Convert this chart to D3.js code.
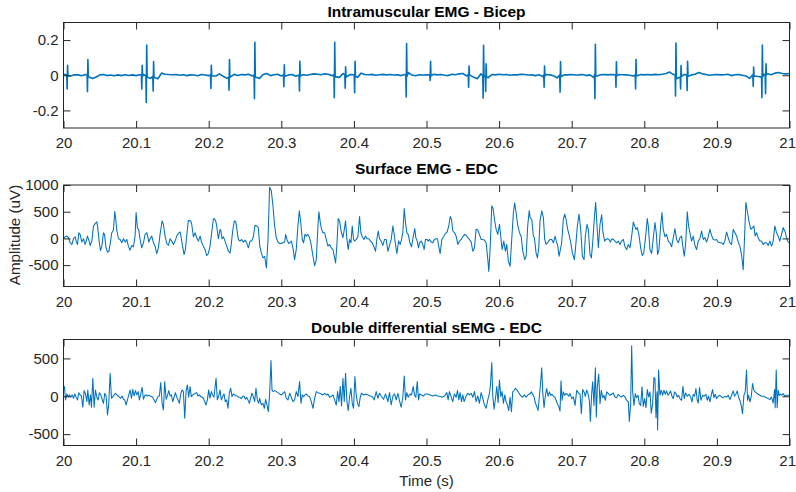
<!DOCTYPE html>
<html>
<head>
<meta charset="utf-8">
<script src="https://cdn.jsdelivr.net/npm/d3@7"></script>
<style>
  body { margin: 0; background: #fff; }
  svg { display: block; font-family: "Liberation Sans", Arial, Helvetica, sans-serif; }
</style>
</head>
<body>
<svg id="chart" width="796" height="492"></svg>
<script>
// ---- data (time given in ms after t = 20 s) ----
const X_TICKS = [20, 20.1, 20.2, 20.3, 20.4, 20.5, 20.6, 20.7, 20.8, 20.9, 21];
const IMG_TICKS = [-0.2, 0, 0.2];
const SEMG_TICKS = [-500, 0, 500, 1000];
const DD_TICKS = [-500, 0, 500];

// intramuscular baseline, one value every 5 ms from 20.000 to 21.000 s
const IMG_BASE = [
  0.005, 0.000, -0.004, 0.003, 0.002, -0.003, 0.004, -0.005, -0.018, -0.010, 0.002, 0.004, -0.002, 0.001, -0.003, 0.002, -0.002, 0.003, -0.001, 0.002,
  -0.002, 0.003, 0.004, -0.010, -0.018, -0.012, -0.020, 0.012, 0.006, 0.004, 0.003, 0.004, 0.000, 0.003, -0.002, 0.002, 0.001, -0.003, 0.004, 0.001,
  -0.002, 0.004, -0.004, 0.008, -0.006, -0.018, -0.008, 0.005, -0.002, 0.004, 0.002, 0.006, -0.004, -0.008, -0.018, 0.004, 0.010, -0.002, 0.003, 0.006,
  -0.004, -0.008, 0.002, 0.004, -0.006, 0.002, 0.003, 0.000, 0.004, 0.008, 0.006, 0.003, 0.008, 0.006, -0.003, -0.006, -0.012, 0.010, -0.014, 0.004,
  0.002, -0.012, 0.012, 0.004, 0.003, 0.005, 0.000, 0.003, 0.005, 0.002, 0.004, 0.001, 0.003, -0.002, 0.004, 0.015, 0.001, -0.003, 0.003, 0.001,
  0.002, -0.004, 0.006, 0.002, 0.004, 0.000, -0.002, 0.006, 0.003, 0.008, 0.010, -0.004, 0.012, -0.012, -0.020, 0.008, 0.000, -0.014, 0.004, 0.002,
  0.006, 0.003, 0.004, 0.000, 0.003, 0.002, 0.006, 0.004, 0.001, 0.002, -0.002, 0.003, -0.008, 0.004, 0.002, -0.003, -0.015, -0.006, 0.003, 0.002,
  0.004, 0.001, 0.002, 0.004, -0.002, 0.002, -0.012, -0.004, 0.003, 0.004, 0.002, 0.004, -0.004, 0.004, 0.003, 0.002, 0.000, -0.004, -0.008, 0.004,
  0.002, 0.004, 0.002, 0.005, 0.003, 0.006, 0.010, 0.018, 0.004, -0.020, -0.012, 0.004, -0.006, 0.002, 0.006, 0.016, 0.008, 0.004, 0.000, 0.003,
  0.004, 0.002, 0.003, 0.006, -0.002, 0.003, 0.004, 0.000, -0.004, -0.018, 0.002, -0.006, -0.010, 0.006, 0.008, 0.003, 0.012, 0.016, 0.010, 0.008,
  0.010
];

// intramuscular spikes [ms, value]
const IMG_SPIKES = [
  [4.5, 0.002], [5.0, -0.078], [5.6, 0.057], [6.2, -0.004],
  [32.5, 0.002], [33.0, -0.093], [33.6, 0.089], [34.2, -0.008],
  [107.3, 0.003], [107.8, -0.078], [108.4, 0.057], [109.0, -0.006],
  [113.5, -0.004], [114.0, -0.155], [114.6, 0.172], [115.2, -0.010],
  [123.0, -0.006], [123.5, -0.090], [124.1, 0.078], [124.7, -0.012],
  [202.5, 0.002], [203.0, -0.075], [203.6, 0.057], [204.2, -0.004],
  [227.5, -0.010], [228.0, -0.085], [228.6, 0.089], [229.2, -0.012],
  [262.5, 0.002], [263.0, -0.133], [263.6, 0.187], [264.2, -0.010],
  [303.0, 0.002], [303.5, -0.065], [304.1, 0.060], [304.7, -0.006],
  [324.5, 0.002], [325.0, -0.090], [325.6, 0.080], [326.2, -0.004],
  [372.5, 0.004], [373.0, -0.128], [373.6, 0.187], [374.2, -0.008],
  [387.5, 0.002], [388.0, -0.074], [388.6, 0.048], [389.2, -0.010],
  [400.5, 0.003], [401.0, -0.100], [401.6, 0.080], [402.2, -0.006],
  [471.5, 0.002], [472.0, -0.124], [472.6, 0.180], [473.2, -0.006],
  [504.5, 0.002], [505.0, -0.030], [505.6, 0.080], [506.2, -0.004],
  [557.5, 0.004], [558.0, -0.068], [558.6, 0.052], [559.2, 0.002],
  [577.5, -0.004], [578.0, -0.130], [578.6, 0.170], [579.2, -0.008],
  [581.0, -0.004], [581.5, -0.093], [582.1, 0.065], [582.7, -0.010],
  [661.5, 0.002], [662.0, -0.068], [662.6, 0.052], [663.2, -0.004],
  [683.5, 0.002], [684.0, -0.096], [684.6, 0.078], [685.2, -0.008],
  [731.5, 0.002], [732.0, -0.133], [732.6, 0.176], [733.2, -0.006],
  [760.5, 0.002], [761.0, -0.068], [761.6, 0.076], [762.2, -0.004],
  [787.5, 0.002], [788.0, -0.078], [788.6, 0.089], [789.2, -0.004],
  [842.5, 0.006], [843.0, -0.118], [843.6, 0.183], [844.2, -0.020],
  [849.5, -0.010], [850.0, -0.078], [850.6, 0.055], [851.2, -0.006],
  [858.5, 0.002], [859.0, -0.087], [859.6, 0.080], [860.2, -0.006],
  [949.5, 0.002], [950.0, -0.063], [950.6, 0.046], [951.2, -0.006],
  [961.5, -0.006], [962.0, -0.128], [962.6, 0.172], [963.2, -0.008],
  [966.5, 0.004], [967.0, -0.105], [967.6, 0.065], [968.2, 0.004]
];

// surface EMG [ms, uV]
const SEMG_POINTS = [
  [0.0, 0], [2.3, 32], [4.6, 44], [6.9, 13], [9.2, -82], [11.5, -113], [13.8, -6], [16.1, 32], [17.4, -50], [19.3, -113],
  [21.1, 107], [22.9, 76], [25.2, -69], [27.5, -6], [29.8, -113], [31.2, -50], [33.0, 44], [34.9, -32], [36.7, -132], [39.0, -50],
  [41.3, 233], [43.6, 277], [45.9, 309], [47.2, 202], [49.1, -50], [50.9, -227], [52.8, -145], [55.0, 107], [56.4, 76], [58.7, -176],
  [60.6, -258], [62.4, -246], [64.2, -113], [66.5, 107], [68.8, 157], [70.6, 504], [72.0, 359], [73.4, 157], [75.7, -6], [78.0, -19],
  [80.3, -82], [82.6, -6], [84.9, -69], [87.2, -19], [89.4, -145], [91.7, -220], [94.0, -132], [96.3, -157], [98.6, 44], [100.0, 485],
  [101.8, 202], [103.7, 157], [105.5, -19], [107.8, -176], [110.1, -82], [112.4, 76], [114.7, 107], [116.1, 32], [117.4, -69], [119.3, -6],
  [121.6, 44], [123.9, -82], [126.1, -145], [128.4, -283], [130.7, -176], [133.0, 76], [135.8, 328], [137.6, 265], [139.9, 44], [142.2, -95],
  [144.5, -132], [146.8, -6], [149.1, -50], [151.4, -113], [153.7, -50], [156.0, 44], [158.3, 95], [160.6, 120], [161.9, 32], [164.2, -157],
  [166.1, -302], [167.9, -208], [169.7, 44], [172.0, 340], [173.4, 328], [175.2, 328], [176.6, 265], [178.9, 32], [181.2, 107], [183.5, 13],
  [185.8, -50], [188.1, 44], [190.4, -82], [192.7, -145], [195.0, -208], [197.2, -321], [199.5, -283], [201.8, -145], [204.1, 107], [206.4, 359],
  [207.8, 372], [209.6, 328], [211.0, 233], [213.3, -6], [215.6, 170], [216.9, 139], [218.3, -6], [220.2, 32], [222.5, -50], [224.8, -145],
  [227.1, -240], [229.4, -271], [230.7, -157], [233.0, 139], [235.3, 328], [237.2, 315], [238.5, 202], [240.8, -19], [243.1, -50], [245.4, -19],
  [247.7, -69], [250.0, -32], [252.3, -82], [254.6, -176], [256.9, -50], [259.2, -50], [261.5, 32], [263.8, 246], [266.1, 233], [268.3, 202],
  [270.4, -150], [272.5, -271], [274.8, -365], [277.1, -334], [279.4, -554], [281.7, -19], [283.9, 958], [286.2, 895], [288.5, 611], [290.8, 233],
  [293.1, 13], [295.4, -69], [297.7, -95], [300.0, -95], [302.3, -82], [304.6, -69], [306.0, 76], [307.8, -19], [310.1, -95], [311.5, -82],
  [313.8, -50], [316.1, -176], [318.3, -397], [320.6, -208], [322.9, 233], [324.8, 517], [326.6, 328], [328.9, -19], [330.7, -82], [332.6, 76],
  [334.4, 44], [336.7, 76], [339.0, 13], [341.3, -132], [343.6, -334], [345.9, -510], [348.2, -397], [350.5, 233], [351.8, 498], [353.7, 296],
  [355.5, 170], [357.3, 107], [359.6, 107], [361.9, -19], [364.2, -145], [366.5, -113], [368.8, -176], [371.1, -208], [373.4, -365], [374.8, -460],
  [376.6, -113], [378.4, 372], [380.3, 328], [382.6, 120], [384.9, 13], [387.2, 202], [388.5, 328], [390.4, -19], [392.2, -208], [394.0, -19],
  [395.9, -82], [397.7, 233], [399.5, -19], [400.9, -50], [403.2, -19], [405.5, 32], [407.8, 410], [409.6, 107], [411.5, 32], [413.8, -19],
  [416.1, 44], [417.9, -6], [420.6, -6], [422.9, -50], [425.2, -82], [427.5, -157], [429.8, -240], [431.6, -19], [433.5, 139], [435.3, -6],
  [437.6, -50], [439.9, -132], [442.2, -19], [444.5, -19], [446.8, -240], [449.1, -132], [451.4, -19], [453.7, 233], [455.5, 76], [457.3, -113],
  [459.2, -283], [461.5, -50], [463.8, -113], [465.6, -19], [467.4, 107], [469.3, 561], [471.1, 296], [472.9, 107], [474.8, 76], [477.1, -82],
  [479.4, -157], [481.7, 32], [483.9, 183], [485.3, 13], [487.2, -50], [489.0, -176], [490.4, -82], [492.7, -50], [494.9, -113], [496.8, -208],
  [498.6, -19], [500.5, -19], [502.3, -50], [504.1, -19], [506.4, -69], [508.7, -82], [511.0, -19], [513.3, -6], [515.1, -6], [517.0, -157],
  [518.8, -283], [521.1, -19], [523.4, 32], [526.1, 95], [528.4, 120], [530.7, 233], [532.6, 410], [534.4, 359], [536.2, 139], [538.5, 107],
  [540.8, 44], [543.1, -113], [545.4, -50], [547.7, -19], [550.0, 32], [552.3, 76], [554.6, 57], [556.9, 13], [559.2, -19], [561.5, -69],
  [563.8, -240], [566.1, -176], [568.3, 170], [570.6, 157], [572.9, 76], [575.2, -19], [577.5, -19], [579.8, -32], [582.1, -82], [584.4, -384],
  [585.8, -617], [587.6, -208], [589.9, 611], [591.7, 561], [593.6, 359], [595.9, 170], [598.2, 76], [600.5, 265], [601.8, 107], [604.1, -208],
  [606.4, -50], [608.7, -240], [610.5, -113], [612.8, -428], [615.1, -523], [617.4, -19], [619.7, 485], [621.5, 662], [623.4, 485], [625.7, 246],
  [628.0, 107], [630.3, 44], [632.6, -240], [635.3, -397], [637.2, -334], [639.4, 233], [641.5, 520], [642.7, 391], [645.0, 359], [647.2, 44],
  [648.6, 13], [650.9, -271], [652.8, -365], [654.6, -176], [656.4, 328], [658.7, 517], [661.0, 391], [662.8, -19], [664.7, -113], [666.5, -82],
  [668.3, -50], [670.2, -19], [672.5, -19], [674.8, -82], [677.1, 44], [678.4, -32], [680.7, -132], [682.6, -334], [684.4, -208], [686.2, -82],
  [688.5, 359], [690.4, 454], [692.2, 359], [694.5, 170], [696.8, 44], [698.6, -69], [700.9, -271], [703.7, -397], [705.5, -145], [707.8, 233],
  [710.1, 454], [712.4, 170], [714.7, -334], [717.0, -397], [718.8, 44], [721.1, 265], [722.9, 170], [725.2, -302], [727.1, -365], [728.9, -82],
  [731.2, 391], [733.0, 674], [734.9, 233], [736.7, -176], [739.0, 265], [741.3, 441], [743.1, 107], [745.4, -50], [747.2, -19], [749.1, -6],
  [751.4, -19], [753.2, -69], [755.5, -6], [757.3, -19], [759.6, -50], [761.9, -82], [764.2, -50], [766.5, -113], [768.8, -50], [771.1, -19],
  [773.4, -157], [775.7, -208], [778.0, -113], [780.3, -176], [782.6, 44], [784.9, 309], [786.7, 233], [788.5, 170], [790.4, 202], [792.7, 57],
  [795.0, -176], [797.2, -321], [799.1, -283], [801.4, -19], [804.1, 372], [805.5, 233], [807.8, -208], [810.1, -283], [812.4, 13], [814.7, 296],
  [816.5, 107], [818.3, -302], [820.2, -208], [822.5, 233], [824.3, 485], [826.1, 170], [828.4, 32], [830.7, 76], [833.0, -50], [835.3, -82],
  [837.6, -157], [839.9, 13], [842.2, 183], [844.5, -19], [846.8, -82], [849.1, 13], [851.4, 44], [852.7, -113], [855.0, -334], [856.9, -113],
  [859.2, 498], [861.0, 233], [862.8, 107], [865.1, -50], [867.4, 44], [869.7, -132], [872.0, -208], [874.3, -50], [876.6, -6], [878.9, 139],
  [881.2, -19], [883.5, 13], [885.8, -69], [888.1, 32], [890.4, 170], [892.7, 57], [895.0, -19], [897.2, -32], [899.5, -19], [901.8, -69],
  [904.1, -82], [906.4, -82], [908.7, -113], [911.0, -50], [913.3, 120], [915.6, 13], [917.9, -82], [920.2, -113], [922.5, 170], [924.8, 107],
  [927.1, 44], [929.4, -69], [931.6, -145], [933.9, -302], [936.2, -586], [937.6, -145], [939.9, 674], [942.2, 485], [944.5, 296], [946.8, 170],
  [949.1, 202], [950.9, 233], [952.7, 44], [954.6, 107], [956.9, 13], [959.2, -50], [961.5, -50], [963.8, -113], [966.1, -82], [968.3, -82],
  [970.6, -132], [972.9, -50], [975.2, -145], [977.5, -50], [979.8, 233], [982.1, 107], [984.4, 44], [986.7, -50], [989.0, 76], [991.3, 202],
  [993.6, 139], [995.9, 13], [998.2, -69], [1000.0, -82]
];

// double differential sEMG [ms, uV]
const DD_POINTS = [
  [0.0, 84], [1.4, 128], [2.8, -48], [4.6, 31], [6.4, -4], [8.3, 18], [10.1, -13], [11.9, 18], [13.8, -26], [15.6, 31],
  [17.4, -13], [19.3, -48], [21.1, 48], [22.9, 18], [24.8, 4], [26.6, -145], [28.4, 75], [30.3, 31], [32.1, -70], [33.5, 84],
  [35.3, -115], [37.2, 18], [38.5, -145], [40.4, 238], [42.2, -145], [44.0, 84], [45.9, -13], [47.7, -48], [49.5, 48], [51.4, 18],
  [53.2, -40], [55.0, -93], [56.9, 40], [58.7, 4], [60.6, -247], [62.4, -93], [64.2, 304], [66.1, -26], [67.9, -4], [69.7, 18],
  [71.6, 40], [73.4, 18], [75.2, 4], [77.1, -13], [78.9, -26], [80.7, 4], [82.6, -40], [84.4, -48], [86.2, -115], [88.1, -48],
  [89.9, 18], [91.7, 84], [93.6, -26], [95.4, 92], [97.2, 4], [99.1, 75], [100.9, 18], [102.8, 62], [104.6, -48], [106.4, 31],
  [108.3, 119], [110.1, -40], [111.9, 13], [113.8, 18], [115.6, 4], [117.4, 13], [119.3, 4], [121.1, -4], [122.9, -13], [124.8, -48],
  [126.6, -84], [128.4, -40], [130.3, -4], [132.1, 4], [133.9, 181], [135.8, -93], [137.6, -181], [139.4, 194], [141.3, -40], [143.1, 4],
  [145.0, 75], [146.8, 4], [148.6, 18], [150.5, -70], [152.3, -13], [154.1, 48], [156.0, -13], [157.8, -48], [159.6, -93], [161.5, 31],
  [163.3, 84], [165.1, 62], [167.0, -291], [168.8, 62], [170.6, 150], [172.5, -13], [174.3, 128], [176.1, -4], [178.0, 18], [179.8, 31],
  [181.7, 40], [183.5, 48], [185.3, 4], [187.2, 18], [189.0, -4], [190.8, -13], [192.7, -26], [194.5, -70], [196.3, -115], [198.2, -48],
  [200.0, 84], [201.8, -26], [203.7, 62], [205.5, 18], [207.3, -13], [210.1, 238], [211.9, -48], [213.8, 4], [215.6, 84], [217.4, -48],
  [219.3, -4], [221.1, 31], [222.9, -70], [224.8, -48], [226.6, -159], [228.4, 40], [230.3, 106], [232.1, -4], [233.9, 31], [235.8, 18],
  [237.6, 4], [239.4, 4], [241.3, -13], [243.1, -13], [244.9, -31], [246.8, -4], [248.6, 4], [250.5, -40], [252.3, -13], [254.1, -48],
  [256.0, -93], [257.8, -26], [259.6, 40], [261.5, -4], [263.3, -70], [265.1, 106], [267.0, -48], [268.8, -93], [270.2, -26], [272.5, -115],
  [274.8, -93], [276.6, -159], [278.4, -40], [280.3, -115], [282.1, -203], [283.9, 31], [285.8, 471], [287.2, 84], [288.5, 62], [290.8, 75],
  [293.1, 62], [295.4, 48], [297.7, 31], [300.0, 18], [302.3, 40], [304.6, 62], [306.9, -26], [309.2, -48], [311.5, 40], [313.8, -13],
  [316.1, -70], [318.3, -48], [320.6, 62], [322.9, -4], [325.2, 194], [327.1, -93], [328.9, 18], [330.7, -4], [332.6, 18], [334.4, 31],
  [336.7, 4], [339.0, -4], [341.3, -70], [343.6, -159], [345.9, -26], [348.2, 62], [350.5, 48], [352.8, 40], [355.0, 31], [357.3, 18],
  [359.6, 40], [361.9, 18], [364.2, 31], [366.5, -13], [368.8, -4], [371.1, 18], [373.4, -48], [375.7, -115], [377.5, 62], [379.4, -70],
  [381.2, 128], [383.0, -128], [384.9, 238], [386.7, -70], [388.5, 304], [390.4, -70], [392.2, -189], [394.0, -13], [395.9, 106], [397.7, -93],
  [399.5, -159], [401.4, 260], [403.2, 18], [405.0, -93], [406.9, -137], [408.7, -13], [410.5, 40], [413.3, 18], [416.1, 31], [419.3, 18],
  [422.5, 4], [425.2, -4], [428.0, -48], [430.7, 62], [433.0, -26], [435.3, 40], [437.6, 4], [440.8, -40], [443.6, 31], [446.8, -70],
  [449.1, 48], [451.4, -115], [453.7, 4], [456.0, 31], [458.3, -48], [460.6, 40], [462.8, -57], [465.1, -145], [467.4, -13], [469.3, 269],
  [471.1, -48], [472.9, 48], [474.8, -13], [477.1, 31], [479.4, 18], [481.7, 128], [483.5, 18], [485.3, -13], [487.2, 194], [489.0, -48],
  [490.4, 31], [493.1, 18], [495.9, 4], [498.6, 31], [501.8, 31], [505.0, 18], [508.7, 4], [512.4, 18], [515.6, 4], [518.8, -4],
  [521.6, -13], [524.8, 4], [528.0, 48], [529.8, -48], [531.6, 62], [533.9, -4], [536.2, -70], [538.5, 31], [540.8, -13], [542.7, 75],
  [544.5, -48], [546.3, 48], [548.2, -70], [550.0, 18], [551.8, -70], [554.6, 4], [556.9, 40], [559.2, 18], [561.5, 40], [563.8, -13],
  [566.1, 62], [568.3, -70], [570.6, 4], [572.9, -93], [575.2, 48], [577.5, -26], [579.8, -115], [582.1, -159], [584.4, -48], [586.7, 40],
  [588.1, 150], [589.9, 445], [591.3, 4], [593.1, -172], [595.0, -26], [596.8, 128], [598.6, -84], [600.5, 216], [602.3, -4], [604.1, 62],
  [606.0, -93], [607.8, 18], [609.6, -70], [611.5, -115], [613.3, -189], [615.1, -13], [617.0, -203], [618.8, 62], [620.6, 75], [622.5, 106],
  [624.3, 84], [626.1, 62], [628.0, 31], [630.3, 4], [632.6, -13], [634.9, 18], [637.2, -13], [639.4, 18], [642.7, 36], [644.5, 58],
  [646.3, 27], [648.2, -9], [650.0, -89], [651.8, -133], [653.7, -186], [655.5, 0], [657.3, 191], [658.7, 377], [660.1, 58], [661.9, -151],
  [663.8, 13], [665.6, 102], [667.4, 0], [669.3, 58], [671.1, 13], [672.9, 27], [674.8, 0], [676.6, -9], [678.4, -53], [680.3, -98],
  [682.1, -133], [683.9, -195], [685.3, 204], [686.7, -53], [688.5, 58], [690.4, 13], [692.2, 36], [694.0, 27], [695.9, 0], [697.7, 36],
  [700.0, -31], [702.3, -9], [704.6, -120], [706.9, 80], [709.2, 44], [711.5, 27], [713.3, -231], [715.1, 89], [717.0, 58], [718.8, 0],
  [720.6, 80], [722.5, 36], [724.3, -53], [725.7, -333], [727.5, 36], [728.9, 191], [730.7, -120], [732.6, 377], [733.9, -275], [735.3, 124],
  [737.2, 293], [739.0, -98], [740.8, 80], [742.7, -18], [744.5, 13], [746.3, -53], [748.2, 58], [750.5, 36], [752.8, 13], [755.0, 27],
  [757.3, 44], [759.6, -9], [761.9, -18], [764.2, 27], [766.5, 0], [768.8, -9], [771.1, 13], [773.4, -9], [775.7, -53], [778.0, -75],
  [779.4, -333], [781.2, -98], [782.6, 666], [784.0, 58], [785.8, -120], [787.6, 36], [789.4, -18], [791.3, 13], [793.1, -98], [795.0, -120],
  [796.8, 124], [798.6, -133], [800.5, -31], [802.3, -151], [804.1, 89], [806.0, -9], [807.8, 58], [809.6, -222], [811.5, -98], [813.3, 249],
  [814.7, 235], [816.1, -284], [817.5, 58], [818.3, -444], [819.7, 346], [821.5, 13], [823.4, 80], [825.2, 13], [827.1, 80], [828.9, 27],
  [830.7, 71], [832.6, 13], [834.4, 36], [836.2, 71], [838.1, 0], [839.9, -31], [841.7, 58], [843.6, 36], [845.4, -9], [847.2, 13],
  [849.1, -31], [851.4, -53], [853.2, 133], [855.0, -31], [856.9, 44], [859.2, 0], [861.5, 27], [863.8, -9], [865.6, -75], [867.4, 27],
  [869.3, 0], [871.1, 102], [872.9, -53], [874.3, -89], [876.1, 115], [878.0, -53], [880.3, 13], [882.6, 0], [884.9, 27], [886.7, -53],
  [888.5, 0], [890.4, -75], [892.2, 13], [894.0, 89], [895.9, -18], [897.7, 27], [899.5, -31], [901.8, 0], [904.1, 13], [906.4, -9],
  [908.7, -18], [911.0, 0], [913.3, -9], [915.6, 13], [917.9, -44], [920.2, 13], [922.5, 71], [924.3, 0], [926.1, 27], [928.0, 71],
  [929.8, -9], [931.6, -53], [933.5, -120], [935.3, -231], [937.2, 13], [939.0, 58], [940.8, 346], [942.2, -53], [943.6, 13], [945.4, -75],
  [947.2, -9], [949.1, 169], [950.9, 80], [952.7, 58], [954.6, 44], [956.9, 27], [959.2, 13], [961.5, 0], [963.8, 0], [966.1, -9],
  [968.3, -18], [970.6, -31], [972.9, -44], [975.2, -9], [977.5, -89], [979.4, 89], [980.3, -151], [981.7, 346], [983.0, -151], [984.4, 80],
  [985.8, 13], [987.6, 27], [989.5, 13], [991.3, 36], [993.6, 0], [995.9, 13], [998.2, 13], [1000.0, 13]
];

// ---- build intramuscular trace: baseline samples away from spikes, plus spikes ----
const imgPoints = IMG_BASE
  .map((v, i) => [i * 5, v])
  .filter(p => !IMG_SPIKES.some(s => Math.abs(s[0] - p[0]) < 1))
  .concat(IMG_SPIKES)
  .sort((a, b) => a[0] - b[0]);

// ---- layout ----
const LEFT = 63.5, RIGHT = 789.5;
const TEXT_COLOR = "#262626";
const LINE_COLOR = "#0072BD";

const PANELS = [
  { title: "Intramuscular EMG - Bicep", top: 22.5, bottom: 128, domain: [-0.3, 0.3], ticks: IMG_TICKS, points: imgPoints, titleY: 16.5, width: 1.6 },
  { title: "Surface EMG - EDC", top: 185, bottom: 286.5, domain: [-900, 1000], ticks: SEMG_TICKS, points: SEMG_POINTS, titleY: 174, width: 1.05 },
  { title: "Double differential sEMG - EDC", top: 339.5, bottom: 445.5, domain: [-650, 750], ticks: DD_TICKS, points: DD_POINTS, titleY: 333, width: 1.05 }
];

const svg = d3.select("#chart");
const x = d3.scaleLinear().domain([20, 21]).range([LEFT, RIGHT]);

function styleAxis(g) {
  g.select(".domain").remove();
  g.selectAll("line").attr("stroke", TEXT_COLOR);
  g.selectAll("text").attr("fill", TEXT_COLOR).style("font-size", "15px").attr("font-family", null);
}

PANELS.forEach((p, idx) => {
  const y = d3.scaleLinear().domain(p.domain).range([p.bottom, p.top]);
  const g = svg.append("g");

  g.append("clipPath").attr("id", "clip" + idx)
    .append("rect")
    .attr("x", LEFT).attr("y", p.top)
    .attr("width", RIGHT - LEFT).attr("height", p.bottom - p.top);

  const line = d3.line()
    .x(d => x(20 + d[0] / 1000))
    .y(d => y(d[1]));

  g.append("path")
    .datum(p.points)
    .attr("clip-path", `url(#clip${idx})`)
    .attr("fill", "none")
    .attr("stroke", LINE_COLOR)
    .attr("stroke-width", p.width)
    .attr("stroke-linejoin", "round")
    .attr("d", line);

  // axes with inward ticks, mirrored on top/right
  const xb = g.append("g").attr("transform", `translate(0,${p.bottom})`)
    .call(d3.axisBottom(x).tickValues(X_TICKS).tickSizeInner(-7).tickSizeOuter(0).tickPadding(9.5).tickFormat(String))
    .call(styleAxis);
  // keep the last label ("21") inside the window
  xb.selectAll(".tick").filter(d => d === 21).select("text")
    .attr("text-anchor", "end").attr("x", 6);

  g.append("g").attr("transform", `translate(0,${p.top})`)
    .call(d3.axisTop(x).tickValues(X_TICKS).tickSizeInner(-7).tickSizeOuter(0).tickFormat(""))
    .call(styleAxis);
  g.append("g").attr("transform", `translate(${LEFT},0)`)
    .call(d3.axisLeft(y).tickValues(p.ticks).tickSizeInner(-7).tickSizeOuter(0).tickPadding(5).tickFormat(String))
    .call(styleAxis);
  g.append("g").attr("transform", `translate(${RIGHT},0)`)
    .call(d3.axisRight(y).tickValues(p.ticks).tickSizeInner(-7).tickSizeOuter(0).tickFormat(""))
    .call(styleAxis);

  g.append("rect")
    .attr("x", LEFT).attr("y", p.top)
    .attr("width", RIGHT - LEFT).attr("height", p.bottom - p.top)
    .attr("fill", "none").attr("stroke", TEXT_COLOR).attr("stroke-width", 1);

  g.append("text")
    .attr("x", (LEFT + RIGHT) / 2).attr("y", p.titleY)
    .attr("text-anchor", "middle")
    .attr("font-weight", "bold")
    .style("font-size", "15.5px")
    .attr("fill", "#000")
    .text(p.title);
});

svg.append("text")
  .attr("transform", "translate(19.5,235) rotate(-90)")
  .attr("text-anchor", "middle")
  .style("font-size", "15.2px")
  .attr("fill", TEXT_COLOR)
  .text("Amplitude (uV)");

svg.append("text")
  .attr("x", (LEFT + RIGHT) / 2).attr("y", 486)
  .attr("text-anchor", "middle")
  .style("font-size", "15px")
  .attr("fill", TEXT_COLOR)
  .text("Time (s)");
</script>
</body>
</html>
